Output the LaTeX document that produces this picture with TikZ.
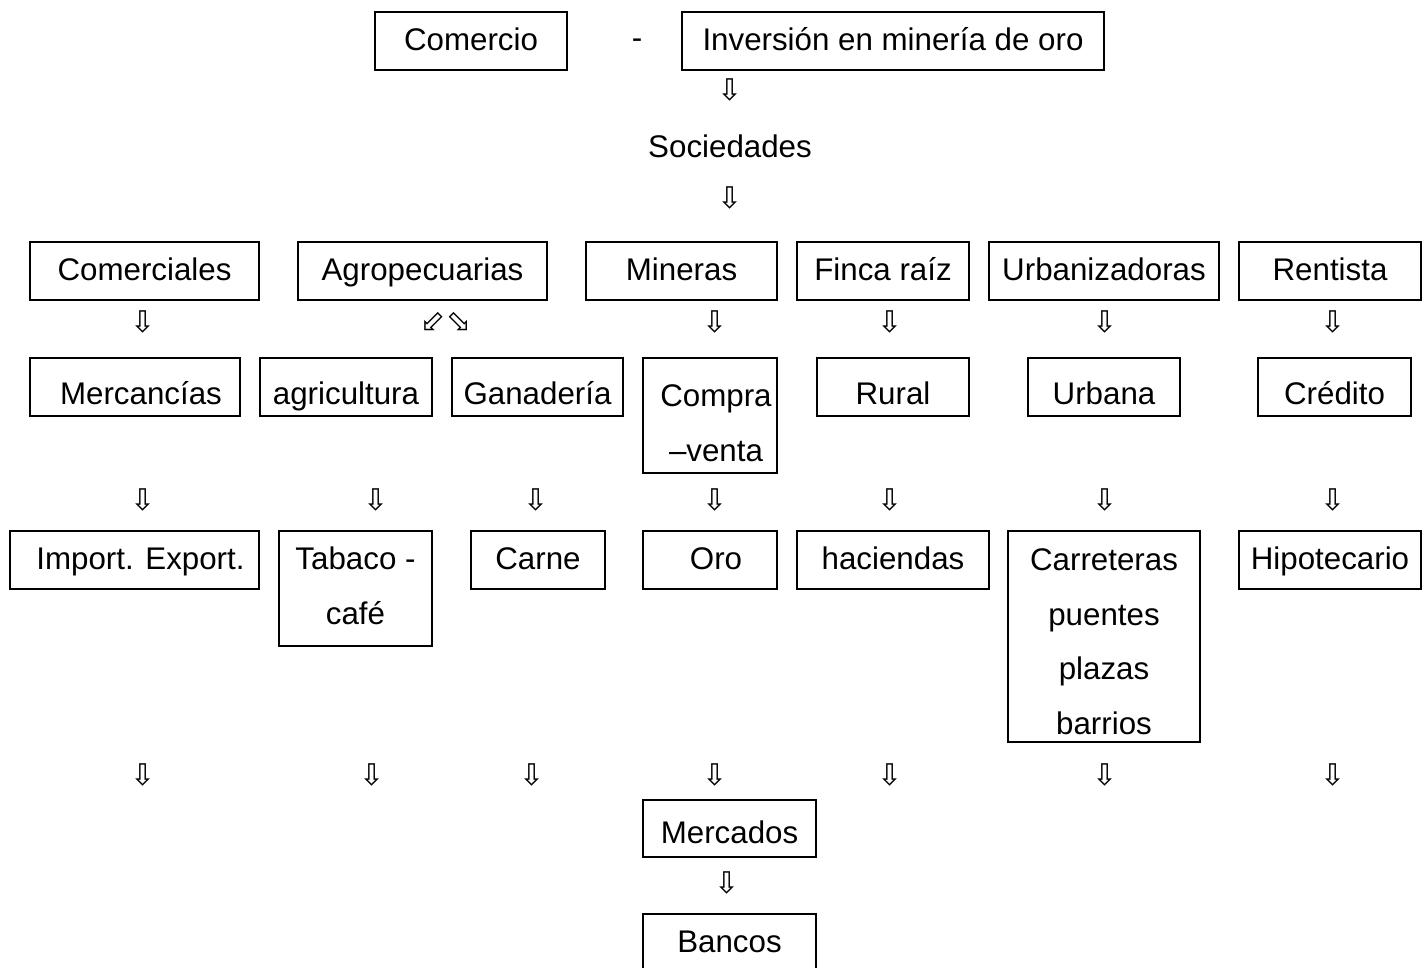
\documentclass[tikz,border=0pt]{standalone}
\usepackage{fontspec}
\setmainfont{Liberation Sans}
\newfontfamily\arrowfont{DejaVu Sans}

\begin{document}
\begin{tikzpicture}[x=0.01cm, y=-0.01cm,
                   every node/.style={font=\fontsize{8.9}{15.6}\selectfont},
                   box/.style={draw, line width=0.55pt, inner sep=0pt, minimum height=0.58cm, text height=6.4pt, text depth=1.2pt},
                   lowbox/.style={box, text height=10.9pt},
                   tallbox/.style={draw, line width=0.55pt, inner sep=0pt, align=center},
                   arr/.style={font=\arrowfont\fontsize{8.5}{8.5}\selectfont, inner sep=0pt}]
\useasboundingbox (0,0) rectangle (1422,968);
% origen
\node[box, minimum width=1.92cm] (comercio) at (471,41) {Comercio};
\node (guion) at (637,44) {-};
\node[box, minimum width=4.22cm] (inversion) at (893,41) {Inversión en minería de oro};
\node[arr] (a0) at (730,90) {⇩};
\node (sociedades) at (730,146) {Sociedades};
\node[arr] (a1) at (730,198) {⇩};
% sociedades
\node[box, minimum width=2.29cm] (comerciales) at (144.5,271) {Comerciales};
\node[box, minimum width=2.49cm] (agro) at (422.5,271) {Agropecuarias};
\node[box, minimum width=1.91cm] (mineras) at (681.5,271) {Mineras};
\node[box, minimum width=1.72cm] (finca) at (883,271) {Finca raíz};
\node[box, minimum width=2.30cm] (urbaniz) at (1104,271) {Urbanizadoras};
\node[box, minimum width=1.82cm] (rentista) at (1330,271) {Rentista};
\foreach \x [count=\i] in {143,715,890,1105,1333}
  \node[arr] (b\i) at (\x,322) {⇩};
\node[arr] (bl) at (433,322) {⬃};
\node[arr] (br) at (459,322) {⬂};
% actividades
\node[lowbox, minimum width=2.10cm] (mercancias) at (135,387) {\hspace*{3.4pt}Mercancías};
\node[lowbox, minimum width=1.72cm] (agricultura) at (346,387) {agricultura};
\node[lowbox, minimum width=1.71cm] (ganaderia) at (537.5,387) {Ganadería};
\node[tallbox, minimum width=1.34cm, minimum height=1.15cm] (compra) at (710,415.5) {\rule{0pt}{10.4pt}\hspace*{3.4pt}Compra\\\hspace*{3.4pt}–venta};
\node[lowbox, minimum width=1.52cm] (rural) at (893,387) {Rural};
\node[lowbox, minimum width=1.52cm] (urbana) at (1104,387) {Urbana};
\node[lowbox, minimum width=1.53cm] (credito) at (1334.5,387) {Crédito};
\foreach \x [count=\i] in {143,376,536,715,890,1105,1333}
  \node[arr] (c\i) at (\x,500) {⇩};
% productos
\node[box, minimum width=2.49cm] (import) at (134.5,560) {\hspace*{3.4pt}Import. Export.};
\node[tallbox, minimum width=1.53cm, minimum height=1.15cm] (tabaco) at (355.5,588.5) {Tabaco -\\café\rule[-1.7pt]{0pt}{0pt}};
\node[box, minimum width=1.34cm] (carne) at (538,560) {Carne};
\node[box, minimum width=1.34cm] (oro) at (710,560) {\hspace*{3.4pt}Oro};
\node[box, minimum width=1.92cm] (haciendas) at (893,560) {haciendas};
\node[tallbox, minimum width=1.92cm, minimum height=2.11cm] (carreteras) at (1104,636.5) {\rule{0pt}{9.2pt}Carreteras\\puentes\\plazas\\barrios};
\node[box, minimum width=1.82cm] (hipotecario) at (1330,560) {Hipotecario};
\foreach \x [count=\i] in {143,372,532,715,890,1105,1333}
  \node[arr] (d\i) at (\x,775) {⇩};
% destino
\node[box, minimum width=1.73cm, minimum height=0.57cm, text height=9.8pt] (mercados) at (729.5,828.5) {Mercados};
\node[arr] (e1) at (727,883) {⇩};
\node[box, minimum width=1.73cm] (bancos) at (729.5,943) {Bancos};
\end{tikzpicture}
\end{document}
